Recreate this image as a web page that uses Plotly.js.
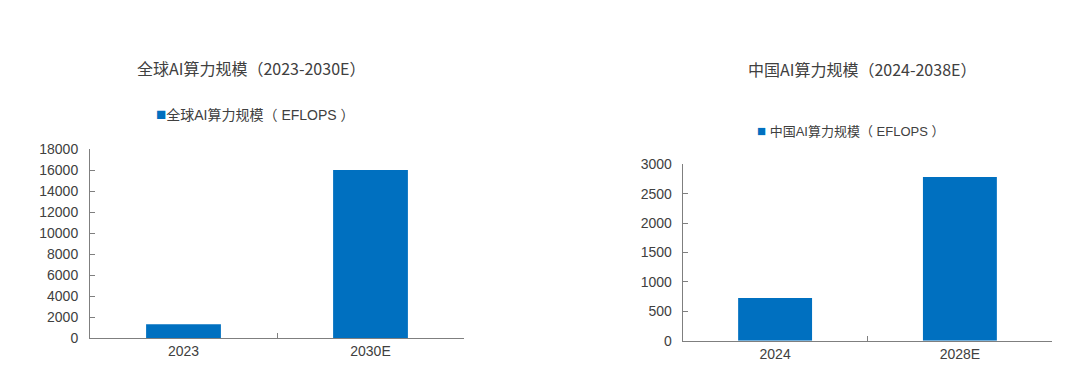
<!DOCTYPE html>
<html>
<head>
<meta charset="utf-8">
<script src="https://cdn.plot.ly/plotly-3.0.1.min.js"></script>
<style>html,body{margin:0;padding:0;background:#fff;}#chart{width:1080px;height:378px;}</style>
</head>
<body>
<div id="chart"></div>
<script>
const globalCategories = ["2023", "2030E"];
const globalValues = [1340, 16000];
const chinaCategories = ["2024", "2028E"];
const chinaValues = [725.3, 2781.9];
const globalTitle = "全球AI算力规模（2023-2030E）";
const chinaTitle = "中国AI算力规模（2024-2038E）";
const globalLegend = "全球AI算力规模（ EFLOPS ）";
const chinaLegend = "中国AI算力规模（ EFLOPS ）";

const BLUE = "#0070C0";
const TEXT = "#404040";
const AXIS = "#7f7f7f";
const FONT = "Liberation Sans, Arial, Noto Sans CJK SC, sans-serif";

const traces = [
  {type: "bar", x: globalCategories, y: globalValues, xaxis: "x", yaxis: "y",
   marker: {color: BLUE}, name: globalLegend, showlegend: false, hoverinfo: "x+y"},
  {type: "bar", x: chinaCategories, y: chinaValues, xaxis: "x2", yaxis: "y2",
   marker: {color: BLUE}, name: chinaLegend, showlegend: false, hoverinfo: "x+y"}
];

const xCommon = {type: "category", showgrid: false, zeroline: false, showline: true,
  linecolor: AXIS, linewidth: 1, ticks: "inside", tickson: "boundaries", ticklen: 5,
  tickcolor: AXIS, tickfont: {family: FONT, size: 14, color: TEXT}, fixedrange: true};
const yCommon = {showgrid: false, zeroline: false, showline: true, linecolor: AXIS,
  linewidth: 1, ticks: "inside", ticklen: 5, tickcolor: AXIS, tickformat: "d",
  tickfont: {family: FONT, size: 14, color: TEXT}, fixedrange: true};

const sq = (px) => '<span style="color:' + BLUE + ';font-family:Liberation Sans;font-size:' + px + 'px">■</span>';

const layout = {
  width: 1080, height: 378,
  margin: {l: 0, r: 0, t: 0, b: 0},
  paper_bgcolor: "#fff", plot_bgcolor: "#fff",
  bargap: 0.6,
  showlegend: false,
  xaxis: Object.assign({}, xCommon, {domain: [90/1080, 464/1080], anchor: "y"}),
  yaxis: Object.assign({}, yCommon, {domain: [1-338.3/378, 1-149/378], range: [0, 18000], dtick: 2000, anchor: "x", ticklabelstandoff: 8}),
  xaxis2: Object.assign({}, xCommon, {domain: [682.7/1080, 1052.3/1080], anchor: "y2"}),
  yaxis2: Object.assign({}, yCommon, {domain: [1-340.7/378, 1-164.3/378], range: [0, 3000], dtick: 500, anchor: "x2", ticklabelstandoff: 7}),
  annotations: [
    {text: globalTitle, xref: "paper", yref: "paper", x: 251/1080, y: 1-68/378,
     xanchor: "center", yanchor: "middle", showarrow: false,
     font: {family: "Noto Sans CJK SC, Liberation Sans, sans-serif", size: 16, color: TEXT}},
    {text: chinaTitle, xref: "paper", yref: "paper", x: 862/1080, y: 1-69/378,
     xanchor: "center", yanchor: "middle", showarrow: false,
     font: {family: "Noto Sans CJK SC, Liberation Sans, sans-serif", size: 16, color: TEXT}},
    {text: sq(17) + globalLegend, xref: "paper", yref: "paper", x: 255/1080, y: 1-114/378,
     xanchor: "center", yanchor: "middle", showarrow: false,
     font: {family: "Liberation Sans, Noto Sans CJK SC, sans-serif", size: 14, color: TEXT}},
    {text: sq(15) + ' ' + chinaLegend, xref: "paper", yref: "paper", x: 850/1080, y: 1-131/378,
     xanchor: "center", yanchor: "middle", showarrow: false,
     font: {family: "Liberation Sans, Noto Sans CJK SC, sans-serif", size: 13, color: TEXT}}
  ]
};

Plotly.newPlot("chart", traces, layout, {displayModeBar: false});
</script>
</body>
</html>
